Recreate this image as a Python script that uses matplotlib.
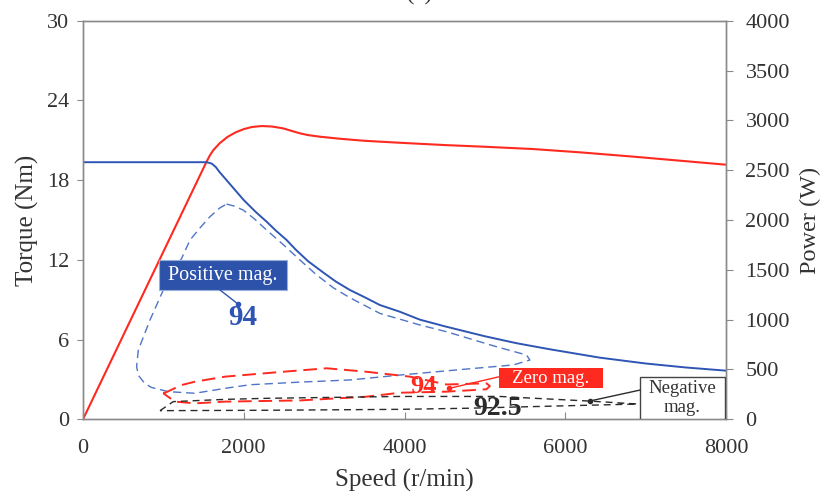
import matplotlib
matplotlib.use("Agg")
import matplotlib.pyplot as plt
from matplotlib.patches import Rectangle

# ---------------- data ----------------
# Torque envelope (blue solid, left axis)
torque_speed = [0, 1540, 1600, 1650, 1700, 1786, 1900, 2000, 2150, 2285, 2400, 2532, 2650, 2800, 3000,
                3150, 3321, 3500, 3694, 3940, 4191, 4500, 5000, 5400, 5808, 6430, 7000, 7500, 8000]
torque_vals = [19.35, 19.35, 19.25, 19.0, 18.6, 18.0, 17.2, 16.5, 15.6, 14.87, 14.2, 13.5, 12.75, 11.9, 11.0,
               10.35, 9.73, 9.2, 8.6, 8.1, 7.5, 7.0, 6.25, 5.72, 5.27, 4.64, 4.2, 3.9, 3.66]

# Power envelope (red solid, right axis)
power_speed = [0, 1540, 1580, 1620, 1700, 1800, 1900, 2000, 2100, 2222, 2350, 2488, 2600, 2699, 2800,
               2948, 3200, 3500, 3943, 4500, 5000, 5601, 6200, 6845, 7400, 8000]
power_vals = [0, 2590, 2650, 2700, 2770, 2835, 2880, 2912, 2933, 2943, 2938, 2920, 2893, 2870, 2852,
              2836, 2815, 2795, 2775, 2752, 2735, 2712, 2678, 2636, 2597, 2555]

# 94 % efficiency contour, positive magnetization (blue dashed)
pos_speed = [1786, 1880, 1993, 2130, 2285, 2500, 2699, 2900, 3114, 3321, 3694, 4191, 4523, 5145, 5518, 5560,
             5353, 4730, 3943, 3321, 2699, 2077, 1766, 1393, 1061, 850, 767, 690, 667, 688, 833, 999,
             1227, 1331, 1455, 1580, 1700, 1786]
pos_torque = [16.2, 16.05, 15.75, 15.1, 14.24, 13.1, 11.99, 10.9, 9.9, 9.15, 7.97, 7.1, 6.59, 5.46, 4.84, 4.46,
              4.09, 3.76, 3.33, 2.96, 2.8, 2.6, 2.33, 1.96, 2.08, 2.4, 2.71, 3.3, 3.96, 5.21, 7.47, 9.73,
              12.11, 13.49, 14.4, 15.25, 15.9, 16.2]

# 94 % efficiency contour, zero magnetization (red dashed)
zero_speed = [999, 1040, 1227, 1393, 1766, 2492, 3031, 3524, 4067, 4523, 5020, 5062,
              5020, 4523, 3943, 3524, 2699, 1766, 1393, 1144, 999]
zero_torque = [1.96, 2.05, 2.58, 2.83, 3.21, 3.58, 3.84, 3.58, 3.21, 2.62, 2.71, 2.5,
               2.26, 2.08, 2.0, 1.70, 1.42, 1.33, 1.2, 1.33, 1.96]

# 92.5 % efficiency contour, negative magnetization (black dashed)
neg_speed = [958, 1123, 1766, 2285, 3943, 5187, 5560, 6306, 6900, 5560, 4771, 3943, 2285, 958]
neg_torque = [0.65, 1.33, 1.5, 1.58, 1.72, 1.72, 1.6, 1.37, 1.15, 0.95, 0.83, 0.75, 0.68, 0.65]

x_ticks = [0, 2000, 4000, 6000, 8000]
y_ticks = [0, 6, 12, 18, 24, 30]
p_ticks = [0, 500, 1000, 1500, 2000, 2500, 3000, 3500, 4000]

# label anchor points (speed, torque)
pos_dot = (1928, 8.68)
zero_dot = (4550, 2.32)
neg_dot = (6308, 1.38)

# ---------------- style ----------------
plt.rcParams['font.family'] = ['Liberation Serif', 'DejaVu Serif']
BLUE = '#2f55b4'
BLUE_D = '#4f74c8'
RED = '#ff2a1f'
BLK = '#2b2b2b'
SPINE = '#8a8a8a'
TXT = '#333333'

fig = plt.figure(figsize=(8.25, 4.96), dpi=100)
ax = fig.add_axes([83/825, 1-419.3/496, (726-83)/825, (419.3-20.7)/496])
ax2 = ax.twinx()
ax.set_zorder(ax2.get_zorder() + 1)
ax.patch.set_visible(False)

ax2.plot(power_speed, power_vals, color=RED, lw=1.5)
ax.plot(torque_speed, torque_vals, color=BLUE, lw=1.4)
ax.plot(pos_speed, pos_torque, color=BLUE_D, lw=1.0, dashes=(6, 3.5))
ax.plot(zero_speed, zero_torque, color=RED, lw=1.4, dashes=(7, 3.5))
ax.plot(neg_speed, neg_torque, color=BLK, lw=1.0, dashes=(5, 3.5))

ax.set_xlim(0, 8000)
ax.set_ylim(0, 30)
ax2.set_ylim(0, 4000)
ax.set_xticks(x_ticks)
ax.set_yticks(y_ticks)
ax2.set_yticks(p_ticks)

for a in (ax, ax2):
    for s in a.spines.values():
        s.set_color(SPINE)
        s.set_linewidth(1.0)
ax.tick_params(axis='x', direction='in', length=5, color=SPINE, labelsize=16, labelcolor=TXT, pad=14)
ax.tick_params(axis='y', direction='out', length=4, color=SPINE, labelsize=16, labelcolor=TXT, pad=6)
ax2.tick_params(axis='y', direction='out', length=5, color=SPINE, labelsize=16, labelcolor=TXT, pad=9)

ax.set_xlabel('Speed (r/min)', fontsize=18, color=TXT, labelpad=8)
ax.set_ylabel('Torque (Nm)', fontsize=18, color=TXT, labelpad=6)
ax2.set_ylabel('Power (W)', fontsize=17.5, color=TXT, labelpad=7)

fig.text(420/825, 1.0, '(c)', ha='center', va='baseline', fontsize=18, color=TXT)

# ---- Positive mag. label ----
ax.add_patch(Rectangle((946, 9.73), 2538-946, 11.99-9.73, facecolor='#2d52a9', edgecolor='#9aaedc', lw=0.8, zorder=5))
ax.text(1742, 10.86, 'Positive mag.', color='white', fontsize=14.5, ha='center', va='center', zorder=6)
ax.plot([1705, pos_dot[0]], [9.73, pos_dot[1]], color=BLUE, lw=1.0, zorder=6)
ax.plot([pos_dot[0]], [pos_dot[1]], 'o', color=BLUE, ms=3, zorder=6)
ax.text(1985, 7.63, '94', color=BLUE, fontsize=21, fontweight='bold', ha='center', va='center', zorder=6)

# ---- Zero mag. label ----
ax.add_patch(Rectangle((5176, 2.33), 6470-5176, 3.84-2.33, facecolor=RED, edgecolor='none', zorder=5))
ax.text(5822, 3.07, 'Zero mag.', color='white', fontsize=13.5, ha='center', va='center', zorder=6)
ax.text(4236, 2.45, '94', color=RED, fontsize=19, fontweight='bold', ha='center', va='center', zorder=6)
ax.plot([zero_dot[0], 5176], [zero_dot[1], 3.2], color=RED, lw=1.0, zorder=6)
ax.plot([zero_dot[0]], [zero_dot[1]], 'o', color=RED, ms=3, zorder=6)

# ---- Negative mag. label ----
ax.text(5163, 0.82, '92.5', color=BLK, fontsize=20, fontweight='bold', ha='center', va='center', zorder=6)
ax.add_patch(Rectangle((6930, 0.0), 7990-6930, 3.18, facecolor='white', edgecolor='#444444', lw=1.0, zorder=5))
ax.text(7459, 1.6, 'Negative\nmag.', color=TXT, fontsize=13.5, ha='center', va='center', linespacing=1.15, zorder=6)
ax.plot([6930, neg_dot[0]], [2.2, neg_dot[1]], color=BLK, lw=1.0, zorder=6)
ax.plot([neg_dot[0]], [neg_dot[1]], 'o', color=BLK, ms=3, zorder=6)

fig.savefig('out.png', dpi=100)
